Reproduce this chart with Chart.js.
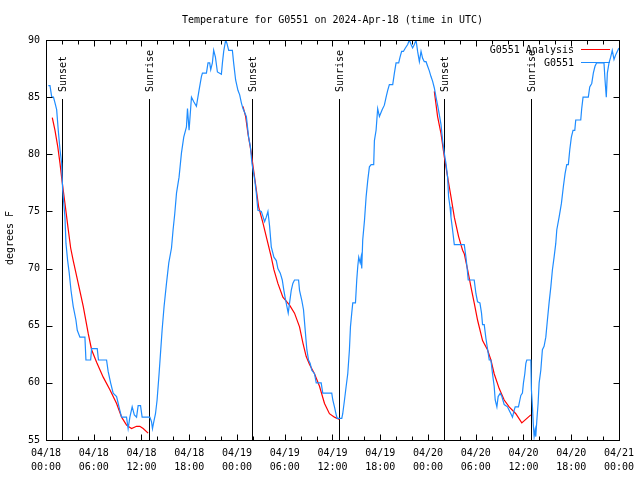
<!DOCTYPE html>
<html>
<head>
<meta charset="utf-8">
<script src="https://cdn.jsdelivr.net/npm/chart.js@4"></script>
<style>
html,body{margin:0;padding:0;background:#fff;}
#c{display:block;}
</style>
</head>
<body>
<canvas id="c" width="640" height="480"></canvas>
<script>
// ---- data (hours since 2024-04-18 00:00 UTC, temperature in deg F) ----
const titleText = 'Temperature for G0551 on 2024-Apr-18 (time in UTC)';
const yAxisTitle = 'degrees F';
const seriesNames = ['G0551 Analysis', 'G0551'];
const xTickDates = ['04/18','04/18','04/18','04/18','04/19','04/19','04/19','04/19','04/20','04/20','04/20','04/20','04/21'];
const xTickTimes = ['00:00','06:00','12:00','18:00','00:00','06:00','12:00','18:00','00:00','06:00','12:00','18:00','00:00'];
const yTicks = [55,60,65,70,75,80,85,90];
const eventHours = [1.97, 12.96, 25.88, 36.88, 49.97, 61.0];
const eventLabels = ['Sunset','Sunrise','Sunset','Sunrise','Sunset','Sunrise'];

const blueReadings = [
[0.29,86.0],[0.50,86.0],[0.72,85.0],[0.94,85.0],[1.13,84.5],[1.34,83.9],[1.54,82.1],[1.76,80.4],[1.97,79.2],[2.09,76.9],
[2.38,74.5],[2.51,72.2],[2.72,70.7],[2.92,69.6],[3.14,68.1],[3.42,66.7],[3.76,65.5],[3.93,64.6],[4.26,64.0],[4.89,64.0],
[5.02,62.0],[5.61,62.0],[5.73,63.0],[6.44,63.0],[6.59,62.0],[7.61,62.0],[7.81,61.0],[8.12,60.0],[8.44,59.1],[8.87,58.8],
[9.28,57.6],[9.50,57.0],[10.12,57.0],[10.32,56.0],[10.54,57.0],[10.83,57.9],[11.10,57.2],[11.38,57.0],[11.58,58.0],[11.88,58.0],
[12.08,57.0],[13.05,57.0],[13.26,56.6],[13.38,56.0],[13.55,56.6],[13.76,57.3],[13.96,58.5],[14.21,60.8],[14.39,62.6],[14.59,64.6],
[14.84,66.7],[15.14,68.7],[15.43,70.5],[15.77,71.8],[15.97,73.4],[16.18,74.8],[16.40,76.6],[16.72,78.0],[17.02,80.1],[17.31,81.5],
[17.65,82.4],[17.78,84.0],[17.98,82.1],[18.28,85.0],[18.57,84.6],[18.90,84.2],[19.23,85.6],[19.53,86.8],[19.66,87.1],[20.16,87.1],
[20.36,88.0],[20.57,88.0],[20.70,87.4],[20.91,88.0],[21.07,89.1],[21.29,88.5],[21.54,87.2],[22.04,87.0],[22.17,88.0],[22.33,89.0],
[22.58,90.0],[22.74,89.7],[22.96,89.1],[23.42,89.1],[23.58,88.0],[23.83,86.5],[24.12,85.6],[24.34,85.2],[24.55,84.5],[24.75,84.0],
[25.18,83.3],[25.46,81.5],[25.68,80.7],[25.88,79.2],[26.22,77.8],[26.43,76.6],[26.63,75.1],[27.06,75.0],[27.47,74.1],[27.68,74.5],
[27.89,75.0],[28.10,73.7],[28.31,71.9],[28.64,71.0],[28.94,70.7],[29.14,70.0],[29.44,69.6],[29.69,69.0],[29.89,68.1],[30.07,67.4],
[30.27,66.7],[30.44,66.1],[30.61,67.0],[30.82,68.1],[31.02,68.7],[31.23,69.0],[31.74,69.0],[31.86,68.1],[32.15,67.2],[32.36,66.4],
[32.49,65.3],[32.61,64.3],[32.78,62.9],[32.99,62.0],[33.20,61.7],[33.40,61.1],[33.74,60.8],[33.96,60.0],[34.58,60.0],[34.78,59.1],
[35.91,59.1],[36.04,58.5],[36.25,57.9],[36.47,57.2],[36.59,56.9],[37.17,56.9],[37.29,57.3],[37.51,58.5],[37.72,59.7],[37.92,60.8],
[38.13,62.9],[38.26,64.9],[38.42,66.1],[38.55,67.0],[38.89,67.0],[39.05,69.0],[39.18,70.2],[39.30,71.0],[39.48,70.5],[39.60,71.0],
[39.68,70.0],[39.80,72.5],[40.02,74.2],[40.23,76.3],[40.43,77.7],[40.64,78.9],[40.86,79.1],[41.18,79.1],[41.27,81.2],[41.48,82.1],
[41.68,84.0],[41.90,83.3],[42.24,83.9],[42.52,84.3],[42.74,85.0],[42.94,85.6],[43.15,86.1],[43.57,86.1],[43.78,87.1],[43.99,88.0],
[44.32,88.0],[44.49,88.5],[44.69,89.0],[44.91,89.0],[45.16,89.3],[45.45,89.6],[45.66,90.0],[45.87,89.6],[46.07,89.3],[46.29,89.6],
[46.50,90.0],[46.70,89.0],[46.92,88.1],[47.13,89.0],[47.33,88.4],[47.54,88.1],[47.76,88.1],[47.96,87.7],[48.17,87.3],[48.38,86.8],
[48.58,86.4],[48.80,85.8],[49.01,85.0],[49.21,84.3],[49.42,83.5],[49.64,82.6],[49.84,81.2],[50.05,80.1],[50.26,79.2],[50.47,78.0],
[50.59,76.3],[50.77,75.4],[50.89,74.5],[51.09,73.4],[51.31,72.1],[52.56,72.1],[52.77,71.0],[52.90,70.2],[53.06,69.0],[53.81,69.0],
[54.03,67.8],[54.23,67.1],[54.53,67.0],[54.73,66.1],[54.86,65.1],[55.07,65.1],[55.28,63.9],[55.48,63.0],[55.70,62.0],[55.91,62.0],
[56.11,60.8],[56.32,59.7],[56.45,58.5],[56.66,57.9],[56.82,58.8],[57.08,59.1],[57.29,58.8],[57.58,58.1],[57.99,57.9],[58.20,57.6],
[58.42,57.3],[58.62,57.0],[58.83,57.6],[58.96,57.9],[59.37,57.9],[59.55,58.5],[59.67,58.9],[59.87,59.1],[60.00,60.0],[60.17,60.8],
[60.30,61.7],[60.42,62.0],[60.93,62.0],[61.00,59.4],[61.13,57.9],[61.25,56.2],[61.34,55.3],[61.47,55.9],[61.55,55.3],[61.68,56.7],
[61.84,58.2],[61.97,60.0],[62.18,61.1],[62.38,62.9],[62.59,63.2],[62.81,64.0],[63.01,65.5],[63.22,67.0],[63.44,68.4],[63.64,69.9],
[63.85,71.0],[64.06,72.2],[64.19,73.4],[64.48,74.5],[64.77,75.7],[65.02,77.2],[65.23,78.3],[65.44,79.1],[65.64,79.1],[65.82,80.4],
[66.02,81.5],[66.23,82.1],[66.45,82.1],[66.57,83.0],[67.20,83.0],[67.32,84.0],[67.49,85.0],[68.15,85.0],[68.33,85.9],[68.58,86.2],
[68.78,87.1],[68.99,87.7],[69.20,88.0],[70.12,88.0],[70.25,86.5],[70.41,85.0],[70.54,87.1],[70.75,88.0],[70.96,88.5],[71.16,89.1],
[71.38,88.3],[71.59,88.7],[71.79,89.0],[72.00,89.3]
];

const redReadings = [
[0.79,83.2],[1.13,82.1],[1.47,80.7],[1.76,79.2],[2.01,77.7],[2.38,75.7],[2.80,73.4],[3.10,71.8],[3.42,70.7],[4.05,68.7],
[4.68,66.7],[5.31,64.3],[5.73,62.9],[6.36,61.8],[7.19,60.5],[8.03,59.4],[8.87,58.2],[9.50,57.0],[10.12,56.3],[10.75,56.0],
[11.38,56.2],[11.79,56.2],[12.21,56.0],[12.83,55.6],
[18.0,null],
[24.75,84.2],[25.09,83.3],[25.38,81.8],[25.80,80.1],[26.09,78.6],[26.43,76.9],[26.72,75.4],[27.26,74.0],[27.68,72.8],[28.31,71.0],
[28.64,69.9],[29.14,68.7],[29.77,67.5],[30.61,66.8],[31.23,66.1],[31.86,64.9],[32.28,63.5],[32.70,62.3],[33.12,61.6],[33.74,60.8],
[34.37,59.7],[35.00,58.2],[35.62,57.3],[36.25,57.0],[36.88,56.8],
[42.0,null],
[48.80,85.5],[49.21,83.3],[49.64,81.8],[50.05,79.8],[50.47,78.0],[50.89,76.3],[51.31,74.5],[51.85,72.8],[52.35,71.6],[52.56,71.3],
[52.98,69.9],[53.40,68.4],[53.81,67.0],[54.23,65.5],[54.86,63.7],[55.48,62.9],[55.91,62.0],[56.32,60.8],[56.95,59.5],[57.58,58.5],
[58.20,57.9],[59.04,57.3],[59.79,56.5],[60.93,57.2]
];

const RED = '#ff0000';
const BLUE = '#1e8cff';
const FONT = '"DejaVu Sans Mono", "Liberation Mono", monospace';

const toXY = arr => arr.map(p => ({x: p[0], y: p[1]}));

const decor = {
  id: 'decor',
  beforeDatasetsDraw(chart) {
    const {ctx, scales: {x, y}} = chart;
    ctx.save();
    ctx.strokeStyle = '#000';
    ctx.lineWidth = 1;
    ctx.fillStyle = '#000';
    ctx.font = '10px ' + FONT;
    eventHours.forEach((h, i) => {
      const px = Math.round(x.getPixelForValue(h)) + 0.5;
      const top = Math.round(y.getPixelForValue(84.8));
      ctx.beginPath();
      ctx.moveTo(px, top);
      ctx.lineTo(px, y.bottom);
      ctx.stroke();
      ctx.save();
      ctx.translate(px + 1, top - 7);
      ctx.rotate(-Math.PI / 2);
      ctx.textAlign = 'left';
      ctx.textBaseline = 'middle';
      ctx.fillText(eventLabels[i], 0, 0);
      ctx.restore();
    });
    ctx.restore();
  },
  afterDraw(chart) {
    const {ctx, chartArea: a, scales: {x, y}} = chart;
    ctx.save();
    ctx.strokeStyle = '#000';
    ctx.lineWidth = 1;
    const L = Math.round(a.left) + 0.5, R = Math.round(a.right) + 0.5;
    const T = Math.round(a.top) + 0.5, B = Math.round(a.bottom) + 0.5;
    ctx.strokeRect(L, T, R - L, B - T);
    ctx.beginPath();
    // x ticks every 2 hours, major every 6 (inward, bottom and top)
    for (let h = 0; h <= 72; h += 2) {
      const px = Math.round(x.getPixelForValue(h)) + 0.5;
      const len = (h % 6 === 0) ? 6 : 4;
      ctx.moveTo(px, B); ctx.lineTo(px, B - len);
      ctx.moveTo(px, T); ctx.lineTo(px, T + len);
    }
    // y ticks
    yTicks.forEach(v => {
      const py = Math.round(y.getPixelForValue(v)) + 0.5;
      ctx.moveTo(L, py); ctx.lineTo(L + 6, py);
      ctx.moveTo(R, py); ctx.lineTo(R - 6, py);
    });
    ctx.stroke();

    ctx.fillStyle = '#000';
    ctx.font = '10px ' + FONT;
    // title
    ctx.textAlign = 'center';
    ctx.textBaseline = 'middle';
    ctx.fillText(titleText, (a.left + a.right) / 2, 20);
    // y axis title
    ctx.save();
    ctx.translate(10, 238);
    ctx.rotate(-Math.PI / 2);
    ctx.fillText(yAxisTitle, 0, 0);
    ctx.restore();
    // legend
    const colors = [RED, BLUE];
    seriesNames.forEach((name, i) => {
      const ly = 50 + i * 13;
      ctx.textAlign = 'right';
      ctx.fillStyle = '#000';
      ctx.fillText(name, 574, ly);
      ctx.strokeStyle = colors[i];
      ctx.beginPath();
      ctx.moveTo(581, ly - 0.5);
      ctx.lineTo(610, ly - 0.5);
      ctx.stroke();
    });
    ctx.restore();
  }
};

new Chart(document.getElementById('c'), {
  type: 'line',
  data: {
    datasets: [
      {label: seriesNames[0], data: toXY(redReadings), borderColor: RED, borderWidth: 1.2,
       pointRadius: 0, tension: 0, spanGaps: false, order: 1},
      {label: seriesNames[1], data: toXY(blueReadings), borderColor: BLUE, borderWidth: 1.2,
       pointRadius: 0, tension: 0, order: 0}
    ]
  },
  options: {
    responsive: false,
    animation: false,
    devicePixelRatio: 1,
    layout: {padding: {left: 0, right: 19, top: 40, bottom: 0}},
    plugins: {legend: {display: false}, title: {display: false}, tooltip: {enabled: false}},
    scales: {
      x: {
        type: 'linear', min: 0, max: 72,
        afterFit: s => { s.height = 40; },
        grid: {display: false, drawTicks: false},
        border: {display: false},
        ticks: {
          stepSize: 6, autoSkip: false, maxRotation: 0, padding: 6, color: '#000',
          font: {family: FONT, size: 10, lineHeight: 1.4},
          callback: (v) => { const i = Math.round(v / 6); return [xTickDates[i], xTickTimes[i]]; }
        }
      },
      y: {
        min: 55, max: 90,
        afterFit: s => { s.width = 46; },
        grid: {display: false, drawTicks: false},
        border: {display: false},
        ticks: {stepSize: 5, padding: 6, color: '#000', font: {family: FONT, size: 10}}
      }
    }
  },
  plugins: [decor]
});
</script>
</body>
</html>
